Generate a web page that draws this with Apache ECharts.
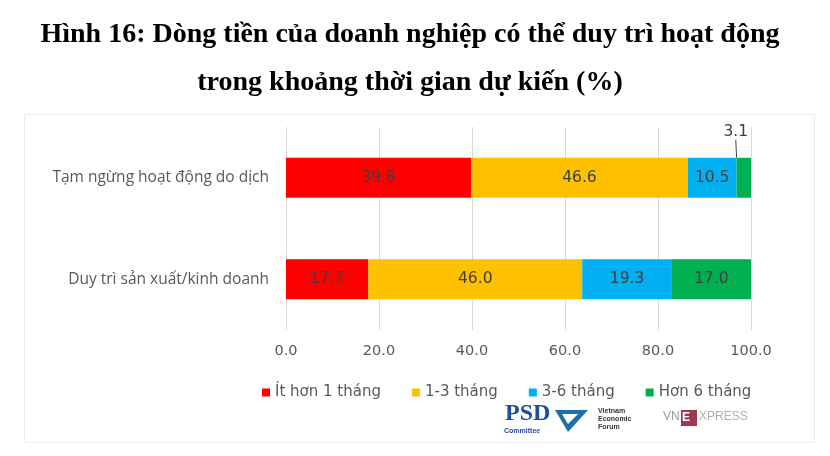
<!DOCTYPE html>
<html><head><meta charset="utf-8">
<script src="https://cdn.jsdelivr.net/npm/echarts@6/dist/echarts.min.js"></script>
<style>html,body{margin:0;padding:0;background:#fff}#c{width:830px;height:456px}</style>
</head><body><div id="c"></div>
<script>
const categories = ['Tạm ngừng hoạt động do dịch', 'Duy trì sản xuất/kinh doanh'];
const seriesNames = ['Ít hơn 1 tháng', '1-3 tháng', '3-6 tháng', 'Hơn 6 tháng'];
const lessThan1 = [39.8, 17.7];
const m1to3 = [46.6, 46.0];
const m3to6 = [10.5, 19.3];
const over6 = [3.1, 17.0];
const xTicks = [0, 20, 40, 60, 80, 100];
const colors = ['#FF0000', '#FFC000', '#00B0F0', '#00B050'];
const values = [lessThan1, m1to3, m3to6, over6];

const chart = echarts.init(document.getElementById('c'));
const series = values.map((v, i) => ({
  name: seriesNames[i], type: 'bar', stack: 'a', barWidth: 40,
  itemStyle: { color: colors[i] },
  label: { show: true, position: 'inside', color: '#404040', fontSize: 15.5, fontFamily: 'DejaVu Sans',
    formatter: p => p.value.toFixed(1) },
  data: v.map((x, j) => {
    if (i === 3 && j === 0) {
      return { value: x, label: { position: 'top', distance: 4, color: '#404040' } };
    }
    return x;
  }),
  labelLayout: (i === 3) ? (p => p.dataIndex === 0 ? { dx: -8, dy: -14 } : {}) : undefined,
  labelLine: { show: true, lineStyle: { color: '#404040', width: 1 } }
}));

chart.setOption({
  animation: false,
  title: { text: 'Hình 16: Dòng tiền của doanh nghiệp có thể duy trì hoạt động\ntrong khoảng thời gian dự kiến (%)',
    left: 405, top: 6, textAlign: 'center',
    textStyle: { fontFamily: 'Liberation Serif', fontWeight: 'bold', fontSize: 28, color: '#000', lineHeight: 48 } },
  grid: { left: 286, right: 79, top: 127, bottom: 126 },
  xAxis: { type: 'value', min: 0, max: 100, interval: 20,
    axisLine: { show: false }, axisTick: { show: false },
    splitLine: { lineStyle: { color: '#d9d9d9' } },
    axisLabel: { color: '#595959', fontSize: 14.5, fontFamily: 'DejaVu Sans', margin: 14,
      formatter: v => xTicks.includes(v) ? v.toFixed(1) : '' } },
  yAxis: { type: 'category', data: categories, inverse: true,
    axisLine: { show: false }, axisTick: { show: false },
    axisLabel: { color: '#595959', fontSize: 15.5, fontFamily: 'Open Sans', margin: 17 } },
  legend: { data: seriesNames, left: 257, top: 380, itemWidth: 8, itemHeight: 8, itemGap: 31, icon: 'rect',
    textStyle: { color: '#595959', fontSize: 15, fontFamily: 'DejaVu Sans' } },
  graphic: [
    { type: 'rect', left: 22, top: 112, shape: { width: 790, height: 328 }, style: { fill: 'none', stroke: '#ececec' }, silent: true },
    { type: 'text', left: 505, top: 402, style: { text: 'PSD', font: 'bold 24px Liberation Sans Narrow', fill: '#1F4E99' } },
    { type: 'text', left: 504, top: 428, style: { text: 'Committee', font: 'bold 7px Liberation Sans', fill: '#1F4E99' } },
    { type: 'polygon', shape: { points: [[555,410],[588,410],[568,432]] }, style: { fill: '#1F6FA8' } },
    { type: 'polygon', shape: { points: [[562,414],[578,414],[568,424]] }, style: { fill: '#fff' } },
    { type: 'text', left: 598, top: 407, style: { text: 'Vietnam\nEconomic\nForum', font: 'bold 7px Liberation Sans', fill: '#333', lineHeight: 8 } },
    { type: 'text', left: 663, top: 411, style: { text: 'VN', font: '12px Liberation Sans', fill: '#9a9a9a' } },
    { type: 'rect', left: 681, top: 410, shape: { width: 16, height: 16 }, style: { fill: '#a0384f' } },
    { type: 'text', left: 682, top: 412, style: { text: 'E', font: 'bold 12px Liberation Sans', fill: '#fff' } },
    { type: 'text', left: 699, top: 411, style: { text: 'XPRESS', font: '12px Liberation Sans', fill: '#b0b0b0' } }
  ],
  series
});
</script></body></html>
